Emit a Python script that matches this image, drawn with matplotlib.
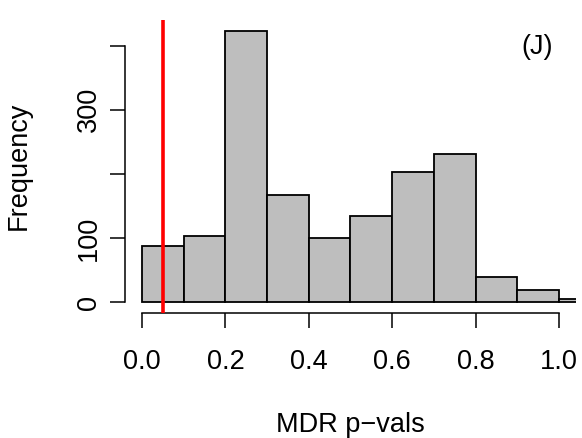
import numpy as np
import matplotlib
matplotlib.use("Agg")
import matplotlib.pyplot as plt

# histogram of MDR p-values (bin edges, counts)
bin_edges = [0.0, 0.1, 0.2, 0.3, 0.4, 0.5, 0.6, 0.7, 0.8, 0.9, 1.0, 1.1]
counts = [88, 103, 423, 167, 101, 134, 203, 231, 40, 20, 5]
cutoff = 0.05
x_ticks = [0.0, 0.2, 0.4, 0.6, 0.8, 1.0]
y_ticks = [0, 100, 200, 300, 400]
y_ticklabels = ["0", "100", "", "300", ""]

plt.rcParams["font.family"] = ["Liberation Sans", "DejaVu Sans"]

fig = plt.figure(figsize=(5.82, 4.38), dpi=100)
ax = fig.add_axes([125.3 / 582, 1 - 313.3 / 438, 450.4 / 582, 293.3 / 438])

lefts = np.array(bin_edges[:-1])
widths = np.diff(bin_edges)
ax.bar(lefts, counts, width=widths, align="edge", color="#bebebe",
       edgecolor="black", linewidth=1.3, zorder=2)
ax.axvline(cutoff, color="red", linewidth=2.6, zorder=3)

ymax = max(counts)
ax.set_xlim(-0.04, 1.04)
ax.set_ylim(-0.04 * ymax, 1.04 * ymax)

for s in ["top", "right"]:
    ax.spines[s].set_visible(False)
ax.spines["left"].set_bounds(0, 400)
ax.spines["bottom"].set_bounds(0, 1.0)
ax.spines["left"].set_linewidth(1.1)
ax.spines["bottom"].set_linewidth(1.1)

fs = 19.5
ax.set_xticks(x_ticks)
ax.set_xticklabels(["%.1f" % v for v in x_ticks])
ax.set_yticks(y_ticks)
ax.set_yticklabels(y_ticklabels, rotation=90, va="center")
ax.tick_params(axis="both", direction="out", length=11, width=1.1,
               labelsize=fs)
ax.tick_params(axis="x", pad=15)
ax.tick_params(axis="y", pad=6)

ax.set_xlabel("MDR p\u2212vals", fontsize=fs, labelpad=26)
fig.text(19 / 582, 1 - 166 / 438, "Frequency", fontsize=fs, rotation=90,
         ha="center", va="center")
ax.text(0.914, 0.908, "(J)", transform=ax.transAxes, fontsize=fs,
        ha="center", va="center")

fig.savefig("out.png", dpi=100)
